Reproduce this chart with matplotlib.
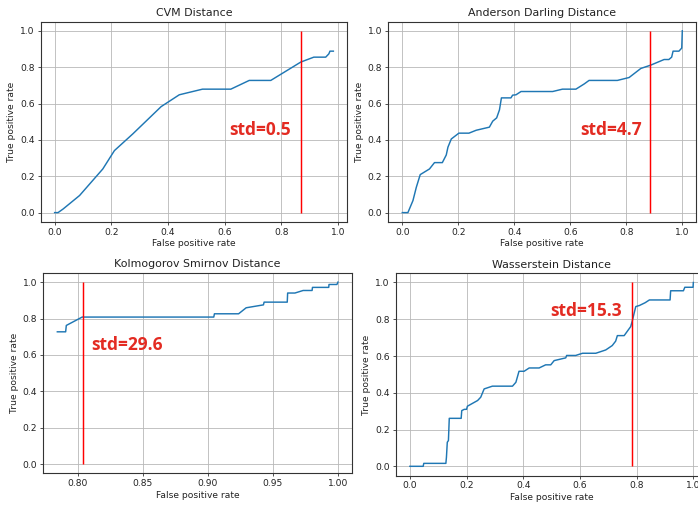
import matplotlib
matplotlib.use("Agg")
import matplotlib.pyplot as plt

# ---------------- data ----------------
titles = ["CVM Distance", "Anderson Darling Distance",
          "Kolmogorov Smirnov Distance", "Wasserstein Distance"]
std_labels = ["std=0.5", "std=4.7", "std=29.6", "std=15.3"]
thresholds = [0.871, 0.885, 0.8038, 0.785]

cvm_fpr = [0, 0.012, 0.03, 0.088, 0.17, 0.211, 0.276, 0.376, 0.44, 0.522, 0.622,
           0.687, 0.763, 0.869, 0.915, 0.957, 0.968, 0.972, 0.984]
cvm_tpr = [0, 0, 0.02, 0.094, 0.24, 0.341, 0.433, 0.583, 0.648, 0.679, 0.679,
           0.727, 0.727, 0.828, 0.855, 0.855, 0.873, 0.888, 0.888]

ad_fpr = [0, 0.02, 0.038, 0.05, 0.064, 0.097, 0.115, 0.143, 0.157, 0.163, 0.175,
          0.202, 0.238, 0.264, 0.311, 0.323, 0.337, 0.347, 0.354, 0.388, 0.394,
          0.406, 0.424, 0.537, 0.572, 0.62, 0.65, 0.667, 0.768, 0.81, 0.852,
          0.887, 0.935, 0.952, 0.962, 0.967, 0.988, 0.998, 1.0]
ad_tpr = [0, 0, 0.066, 0.139, 0.209, 0.24, 0.275, 0.275, 0.317, 0.36, 0.405,
          0.437, 0.437, 0.453, 0.47, 0.503, 0.521, 0.565, 0.631, 0.631, 0.646,
          0.648, 0.666, 0.666, 0.679, 0.679, 0.708, 0.727, 0.727, 0.743, 0.793,
          0.811, 0.842, 0.842, 0.855, 0.888, 0.888, 0.905, 1.0]

ks_fpr = [0.7842, 0.7906, 0.7911, 0.8033, 0.9045, 0.905, 0.9236, 0.9294, 0.9427,
          0.9432, 0.961, 0.9613, 0.9669, 0.9732, 0.9801, 0.9804, 0.9929, 0.9931,
          0.9992, 1.0]
ks_tpr = [0.727, 0.727, 0.762, 0.808, 0.808, 0.826, 0.826, 0.859, 0.875,
          0.89, 0.89, 0.94, 0.94, 0.954, 0.954, 0.971, 0.971, 0.987,
          0.987, 1.0]

ws_fpr = [0, 0.047, 0.049, 0.127, 0.129, 0.132, 0.136, 0.139, 0.181, 0.183, 0.192,
          0.2, 0.203, 0.239, 0.25, 0.262, 0.291, 0.362, 0.374, 0.385, 0.403, 0.421,
          0.456, 0.479, 0.497, 0.509, 0.55, 0.553, 0.585, 0.609, 0.656, 0.691,
          0.714, 0.726, 0.732, 0.756, 0.779, 0.785, 0.792, 0.797, 0.81, 0.83,
          0.845, 0.918, 0.92, 0.965, 0.97, 0.999, 1.0]
ws_tpr = [0, 0, 0.016, 0.016, 0.049, 0.131, 0.14, 0.261, 0.261, 0.303, 0.31,
          0.31, 0.327, 0.358, 0.376, 0.421, 0.436, 0.436, 0.457, 0.517, 0.517, 0.535,
          0.535, 0.552, 0.552, 0.575, 0.59, 0.603, 0.603, 0.615, 0.615, 0.633,
          0.657, 0.681, 0.711, 0.711, 0.76, 0.793, 0.838, 0.869, 0.875, 0.89,
          0.905, 0.905, 0.955, 0.955, 0.974, 0.974, 1.0]

curves = [(cvm_fpr, cvm_tpr), (ad_fpr, ad_tpr), (ks_fpr, ks_tpr), (ws_fpr, ws_tpr)]

# ---------------- layout (pixels) ----------------
W, H = 698, 508
boxes_px = [  # left, top, right, bottom
    (40.7, 21.7, 347.3, 221.7),
    (388.3, 21.7, 696.3, 221.7),
    (43.3, 273.0, 352.0, 473.3),
    (395.7, 273.3, 707.5, 475.5),
]
text_pos = [(0.725, 0.429), (0.746, 0.429), (0.8375, 0.628), (0.62, 0.819)]

fig = plt.figure(figsize=(W / 100, H / 100), dpi=100)
fig.patch.set_facecolor("white")

tick_fs = 6.6
for i in range(4):
    l, t, r, b = boxes_px[i]
    ax = fig.add_axes([l / W, 1 - b / H, (r - l) / W, (b - t) / H])
    x, y = curves[i]
    ax.plot(x, y, color="#1f77b4", lw=1.05)
    ax.vlines(thresholds[i], 0, 1, color="red", lw=1.05)
    ax.grid(True, color="#b8b8b8", lw=0.6)
    ax.set_axisbelow(True)
    ax.set_title(titles[i], fontsize=7.9, pad=4, color="#222222")
    ax.set_xlabel("False positive rate", fontsize=6.6, labelpad=2, color="#222222")
    ax.set_ylabel("True positive rate", fontsize=6.6, labelpad=3, color="#222222")
    ax.tick_params(labelsize=tick_fs, length=2.3, width=0.6, pad=2,
                   colors="#333333", labelcolor="#222222")
    ax.set_yticks([0.0, 0.2, 0.4, 0.6, 0.8, 1.0])
    for s in ax.spines.values():
        s.set_linewidth(0.8)
        s.set_color("#333333")
    tx, ty = text_pos[i]
    ax.text(tx, ty, std_labels[i], color="#e32b22", fontsize=12.5,
            fontweight="bold", family=["Open Sans", "DejaVu Sans"],
            ha="center", va="baseline")

fig.savefig("out.png", dpi=100, facecolor="white")
